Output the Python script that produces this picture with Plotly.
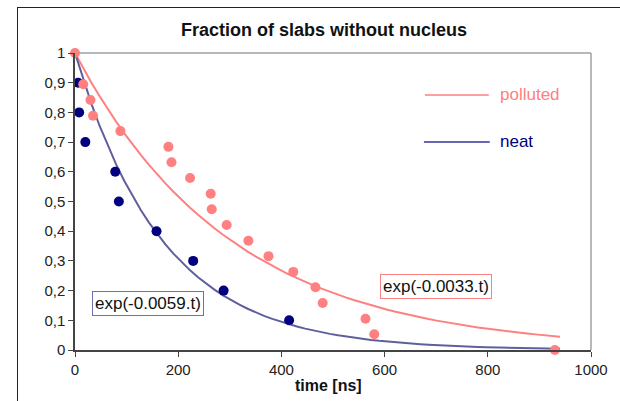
import numpy as np
import plotly.graph_objects as go

# ---- data ----
polluted_t = [0, 16, 30, 35, 88, 181, 187, 223, 263, 265, 294, 336, 375, 423, 466, 480, 563, 580, 930]
polluted_f = [1.0, 0.895, 0.842, 0.789, 0.737, 0.684, 0.632, 0.579, 0.526, 0.474, 0.421, 0.368,
              0.316, 0.263, 0.211, 0.158, 0.105, 0.053, 0.0]
neat_t = [6, 8, 20, 78, 85, 158, 229, 288, 415]
neat_f = [0.9, 0.8, 0.7, 0.6, 0.5, 0.4, 0.3, 0.2, 0.1]

rate_polluted = 0.0033
rate_neat = 0.0059
fit_t_end = 940

y_tickvals = [0, 0.1, 0.2, 0.3, 0.4, 0.5, 0.6, 0.7, 0.8, 0.9, 1]
y_ticktext = ["0", "0,1", "0,2", "0,3", "0,4", "0,5", "0,6", "0,7", "0,8", "0,9", "1"]
x_tickvals = [0, 200, 400, 600, 800, 1000]

PINK = "#FF8080"
NAVY = "#000080"
NAVY_LINE = "#5F5F9E"
FONT = "Arial, Liberation Sans, sans-serif"

t_fit = np.linspace(0, fit_t_end, 60)

fig = go.Figure()
fig.add_trace(go.Scatter(x=t_fit, y=np.exp(-rate_polluted * t_fit), mode="lines",
                         line=dict(color=PINK, width=2), showlegend=False, hoverinfo="skip"))
fig.add_trace(go.Scatter(x=t_fit, y=np.exp(-rate_neat * t_fit), mode="lines",
                         line=dict(color=NAVY_LINE, width=2), showlegend=False, hoverinfo="skip"))
fig.add_trace(go.Scatter(x=neat_t, y=neat_f, mode="markers",
                         marker=dict(color=NAVY, size=10), showlegend=False, cliponaxis=False))
fig.add_trace(go.Scatter(x=polluted_t, y=polluted_f, mode="markers",
                         marker=dict(color=PINK, size=10), showlegend=False, cliponaxis=False))

W, H = 620, 400
# plot area in page pixels: x 75..600, y 53..350
L, T = 75, 53
R = W - 600
B = H - 350
pw, ph = W - L - R, H - T - B

def px(x):
    return (x - L) / pw

def py(y):
    return (H - B - y) / ph

shapes = [
    # top and right plot-area border
    dict(type="line", xref="paper", yref="paper", x0=0, x1=1, y0=1, y1=1,
         line=dict(color="#A0A0A0", width=1.5), layer="below"),
    dict(type="line", xref="paper", yref="paper", x0=1, x1=1, y0=0, y1=1,
         line=dict(color="#A0A0A0", width=1.5), layer="below"),
    # legend lines
    dict(type="line", xref="paper", yref="paper", x0=px(431), x1=px(496), y0=py(95), y1=py(95),
         line=dict(color=PINK, width=1.5)),
    dict(type="line", xref="paper", yref="paper", x0=px(430), x1=px(497), y0=py(142), y1=py(142),
         line=dict(color="#333399", width=1.5)),
]

annotations = [
    dict(text="polluted", xref="paper", yref="paper", x=px(505), y=py(94), xanchor="left",
         yanchor="middle", showarrow=False, font=dict(family=FONT, size=17, color=PINK)),
    dict(text="neat", xref="paper", yref="paper", x=px(505), y=py(141), xanchor="left",
         yanchor="middle", showarrow=False, font=dict(family=FONT, size=17, color=NAVY)),
    dict(text="exp(-0.0059.t)", x=141, y=0.155, xref="x", yref="y", showarrow=False,
         font=dict(family=FONT, size=17, color="#111111"), bordercolor="#7070A8", borderwidth=1,
         borderpad=2, bgcolor="white"),
    dict(text="exp(-0.0033.t)", x=700, y=0.215, xref="x", yref="y", showarrow=False,
         font=dict(family=FONT, size=17, color="#111111"), bordercolor=PINK, borderwidth=1,
         borderpad=2, bgcolor="white"),
    dict(text="<b>time [ns]</b>", xref="paper", yref="paper", x=px(333), y=py(385),
         xanchor="center", yanchor="middle", showarrow=False,
         font=dict(family=FONT, size=16, color="#111111")),
    dict(text="<b>Fraction of slabs without nucleus</b>", xref="paper", yref="paper",
         x=px(328), y=py(30), xanchor="center", yanchor="middle", showarrow=False,
         font=dict(family=FONT, size=18, color="#111111")),
]

fig.update_layout(
    width=W, height=H,
    margin=dict(l=L, r=R, t=T, b=B),
    paper_bgcolor="white", plot_bgcolor="white",
    font=dict(family=FONT, size=15, color="#222222"),
    showlegend=False,
    shapes=shapes,
    annotations=annotations,
    xaxis=dict(range=[0, 1000], tickvals=x_tickvals, ticks="outside", ticklen=5,
               tickcolor="#444444", showline=True, linecolor="#444444", linewidth=1.5,
               showgrid=False, zeroline=False, tickfont=dict(family=FONT, size=15, color="#222222")),
    yaxis=dict(range=[0, 1], tickvals=y_tickvals, ticktext=y_ticktext, ticks="outside", ticklen=5,
               tickcolor="#444444", showline=True, linecolor="#444444", linewidth=1.5,
               showgrid=False, zeroline=False, tickfont=dict(family=FONT, size=15, color="#222222")),
)

# outer chart frame (left and top edges visible, the rest runs off the page)
frame_js = (
    "var f=document.createElement('div');"
    "f.style.cssText='position:absolute;left:17px;top:7px;width:700px;height:500px;"
    "border:1.5px solid #222;pointer-events:none;box-sizing:border-box;';"
    "document.body.appendChild(f);"
)

fig.write_html("out.html", config={"displayModeBar": False},
               post_script=("document.body.style.margin='0';"
                            "document.body.style.overflow='hidden';"
                            "document.documentElement.style.overflow='hidden';" + frame_js))
